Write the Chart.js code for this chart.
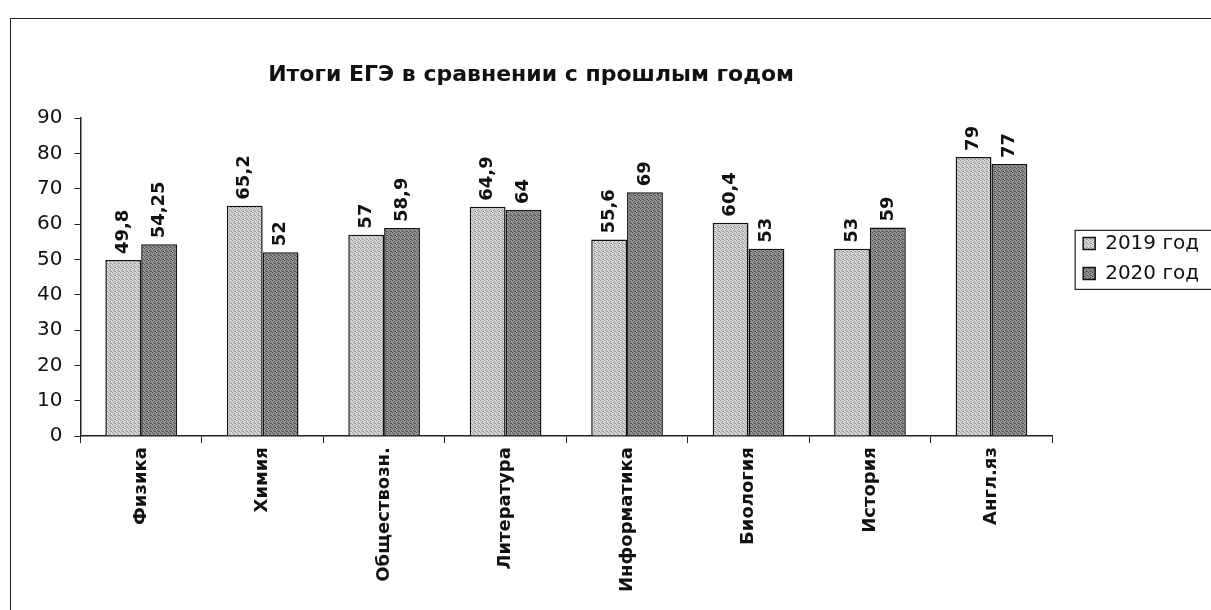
<!DOCTYPE html>
<html>
<head>
<meta charset="utf-8">
<script src="https://cdn.jsdelivr.net/npm/chart.js@4.4.0/dist/chart.umd.min.js"></script>
<style>
  body { margin: 0; background: #fff; }
  #wrap { position: relative; width: 1211px; height: 610px; overflow: hidden; }
  #frame { position: absolute; left: 10px; top: 18px; width: 1230px; height: 640px; border: 1.5px solid #222; }
  canvas { position: absolute; left: 0; top: 0; }
</style>
</head>
<body>
<div id="wrap">
  <div id="frame"></div>
  <canvas id="egeChart" width="1211" height="610"></canvas>
</div>
<script>
const chartTitle = 'Итоги ЕГЭ в сравнении с прошлым годом';
const subjects = ['Физика', 'Химия', 'Обществозн.', 'Литература', 'Информатика', 'Биология', 'История', 'Англ.яз'];
const scores2019 = [49.8, 65.2, 57, 64.9, 55.6, 60.4, 53, 79];
const scores2020 = [54.25, 52, 58.9, 64, 69, 53, 59, 77];
const seriesNames = ['2019 год', '2020 год'];

// dithered grey fill, looks like the printed pattern
function makePattern(base, dot) {
    let c = document.createElement('canvas');
    c.width = 4;
    c.height = 4;
    let ctx = c.getContext('2d');
    ctx.fillStyle = base;
    ctx.fillRect(0, 0, 4, 4);
    ctx.fillStyle = dot;
    [[0, 0], [2, 1], [1, 2], [3, 3], [2, 3]].forEach(p => ctx.fillRect(p[0], p[1], 1, 1));
    return ctx.createPattern(c, 'repeat');
}

function fmt(v) {
    return String(v).replace('.', ',');
}

const titlePlugin = {
    id: 'centerTitle',
    afterDraw(chart) {
        let ctx = chart.ctx;
        ctx.save();
        ctx.font = 'bold 22px "DejaVu Sans"';
        ctx.fillStyle = '#111';
        ctx.textAlign = 'center';
        ctx.textBaseline = 'middle';
        ctx.fillText(chartTitle, (chart.chartArea.right + 10) / 2, 75);
        ctx.restore();
    }
};

const valueLabels = {
    id: 'valueLabels',
    afterDatasetsDraw(chart) {
        let ctx = chart.ctx;
        ctx.save();
        ctx.font = 'bold 18px "DejaVu Sans"';
        ctx.fillStyle = '#111';
        ctx.textAlign = 'left';
        ctx.textBaseline = 'middle';
        chart.data.datasets.forEach((ds, i) => {
            chart.getDatasetMeta(i).data.forEach((bar, j) => {
                ctx.save();
                ctx.translate(bar.x, bar.y - 6);
                ctx.rotate(-Math.PI / 2);
                ctx.fillText(fmt(ds.data[j]), 0, 0);
                ctx.restore();
            });
        });
        ctx.restore();
    }
};

const legendBox = {
    id: 'legendBox',
    afterDraw(chart) {
        let boxes = chart.legend.legendHitBoxes;
        if (!boxes || !boxes.length) return;
        let left = Math.min(...boxes.map(b => b.left)) - 8;
        let top = Math.min(...boxes.map(b => b.top)) - 3;
        let bottom = Math.max(...boxes.map(b => b.top + b.height)) + 6;
        let ctx = chart.ctx;
        ctx.save();
        ctx.strokeStyle = '#222';
        ctx.lineWidth = 1.2;
        ctx.strokeRect(left, top, chart.width + 10 - left, bottom - top);
        ctx.restore();
    }
};

let canvas = document.getElementById('egeChart').getContext('2d');
let egeChart = new Chart(canvas, {
    type: 'bar',
    data: {
        labels: subjects,
        datasets: [{
            label: seriesNames[0],
            data: scores2019,
            backgroundColor: makePattern('#d6d6d6', '#9a9a9a'),
            borderColor: '#111',
            borderWidth: 1.5
        }, {
            label: seriesNames[1],
            data: scores2020,
            backgroundColor: makePattern('#949494', '#505050'),
            borderColor: '#111',
            borderWidth: 1.5
        }]
    },
    options: {
        responsive: false,
        animation: false,
        layout: {
            padding: { left: 25, top: 118, right: 2, bottom: 14 }
        },
        datasets: {
            bar: { categoryPercentage: 0.59, barPercentage: 1.0 }
        },
        scales: {
            x: {
                grid: { drawOnChartArea: false, drawTicks: true, tickLength: 7, color: '#222', offset: true },
                border: { display: true, color: '#222', width: 1.5 },
                ticks: {
                    color: '#111',
                    font: { family: '"DejaVu Sans"', size: 18, weight: 'bold' },
                    minRotation: 90,
                    maxRotation: 90,
                    autoSkip: false,
                    padding: 4
                }
            },
            y: {
                min: 0,
                max: 90,
                grid: { drawOnChartArea: false, drawTicks: true, tickLength: 6, color: '#222' },
                border: { display: true, color: '#222', width: 1.5 },
                ticks: {
                    stepSize: 10,
                    color: '#111',
                    font: { family: '"DejaVu Sans"', size: 20 },
                    padding: 12
                }
            },
            // empty axis on the right, only keeps a gap before the legend
            gap: {
                type: 'linear',
                position: 'right',
                display: true,
                grid: { display: false },
                border: { display: false },
                ticks: { display: false },
                afterFit(scale) {
                    scale.width = 21;
                }
            }
        },
        plugins: {
            title: { display: false },
            tooltip: { enabled: false },
            legend: {
                position: 'right',
                fullSize: false,
                align: 'start',
                title: {
                    display: true,
                    text: ' ',
                    font: { size: 12 },
                    padding: { top: 0, bottom: 91 }
                },
                labels: {
                    color: '#111',
                    font: { family: '"DejaVu Sans"', size: 20 },
                    boxWidth: 12,
                    boxHeight: 12,
                    padding: 10
                }
            }
        }
    },
    plugins: [titlePlugin, valueLabels, legendBox]
});
</script>
</body>
</html>
